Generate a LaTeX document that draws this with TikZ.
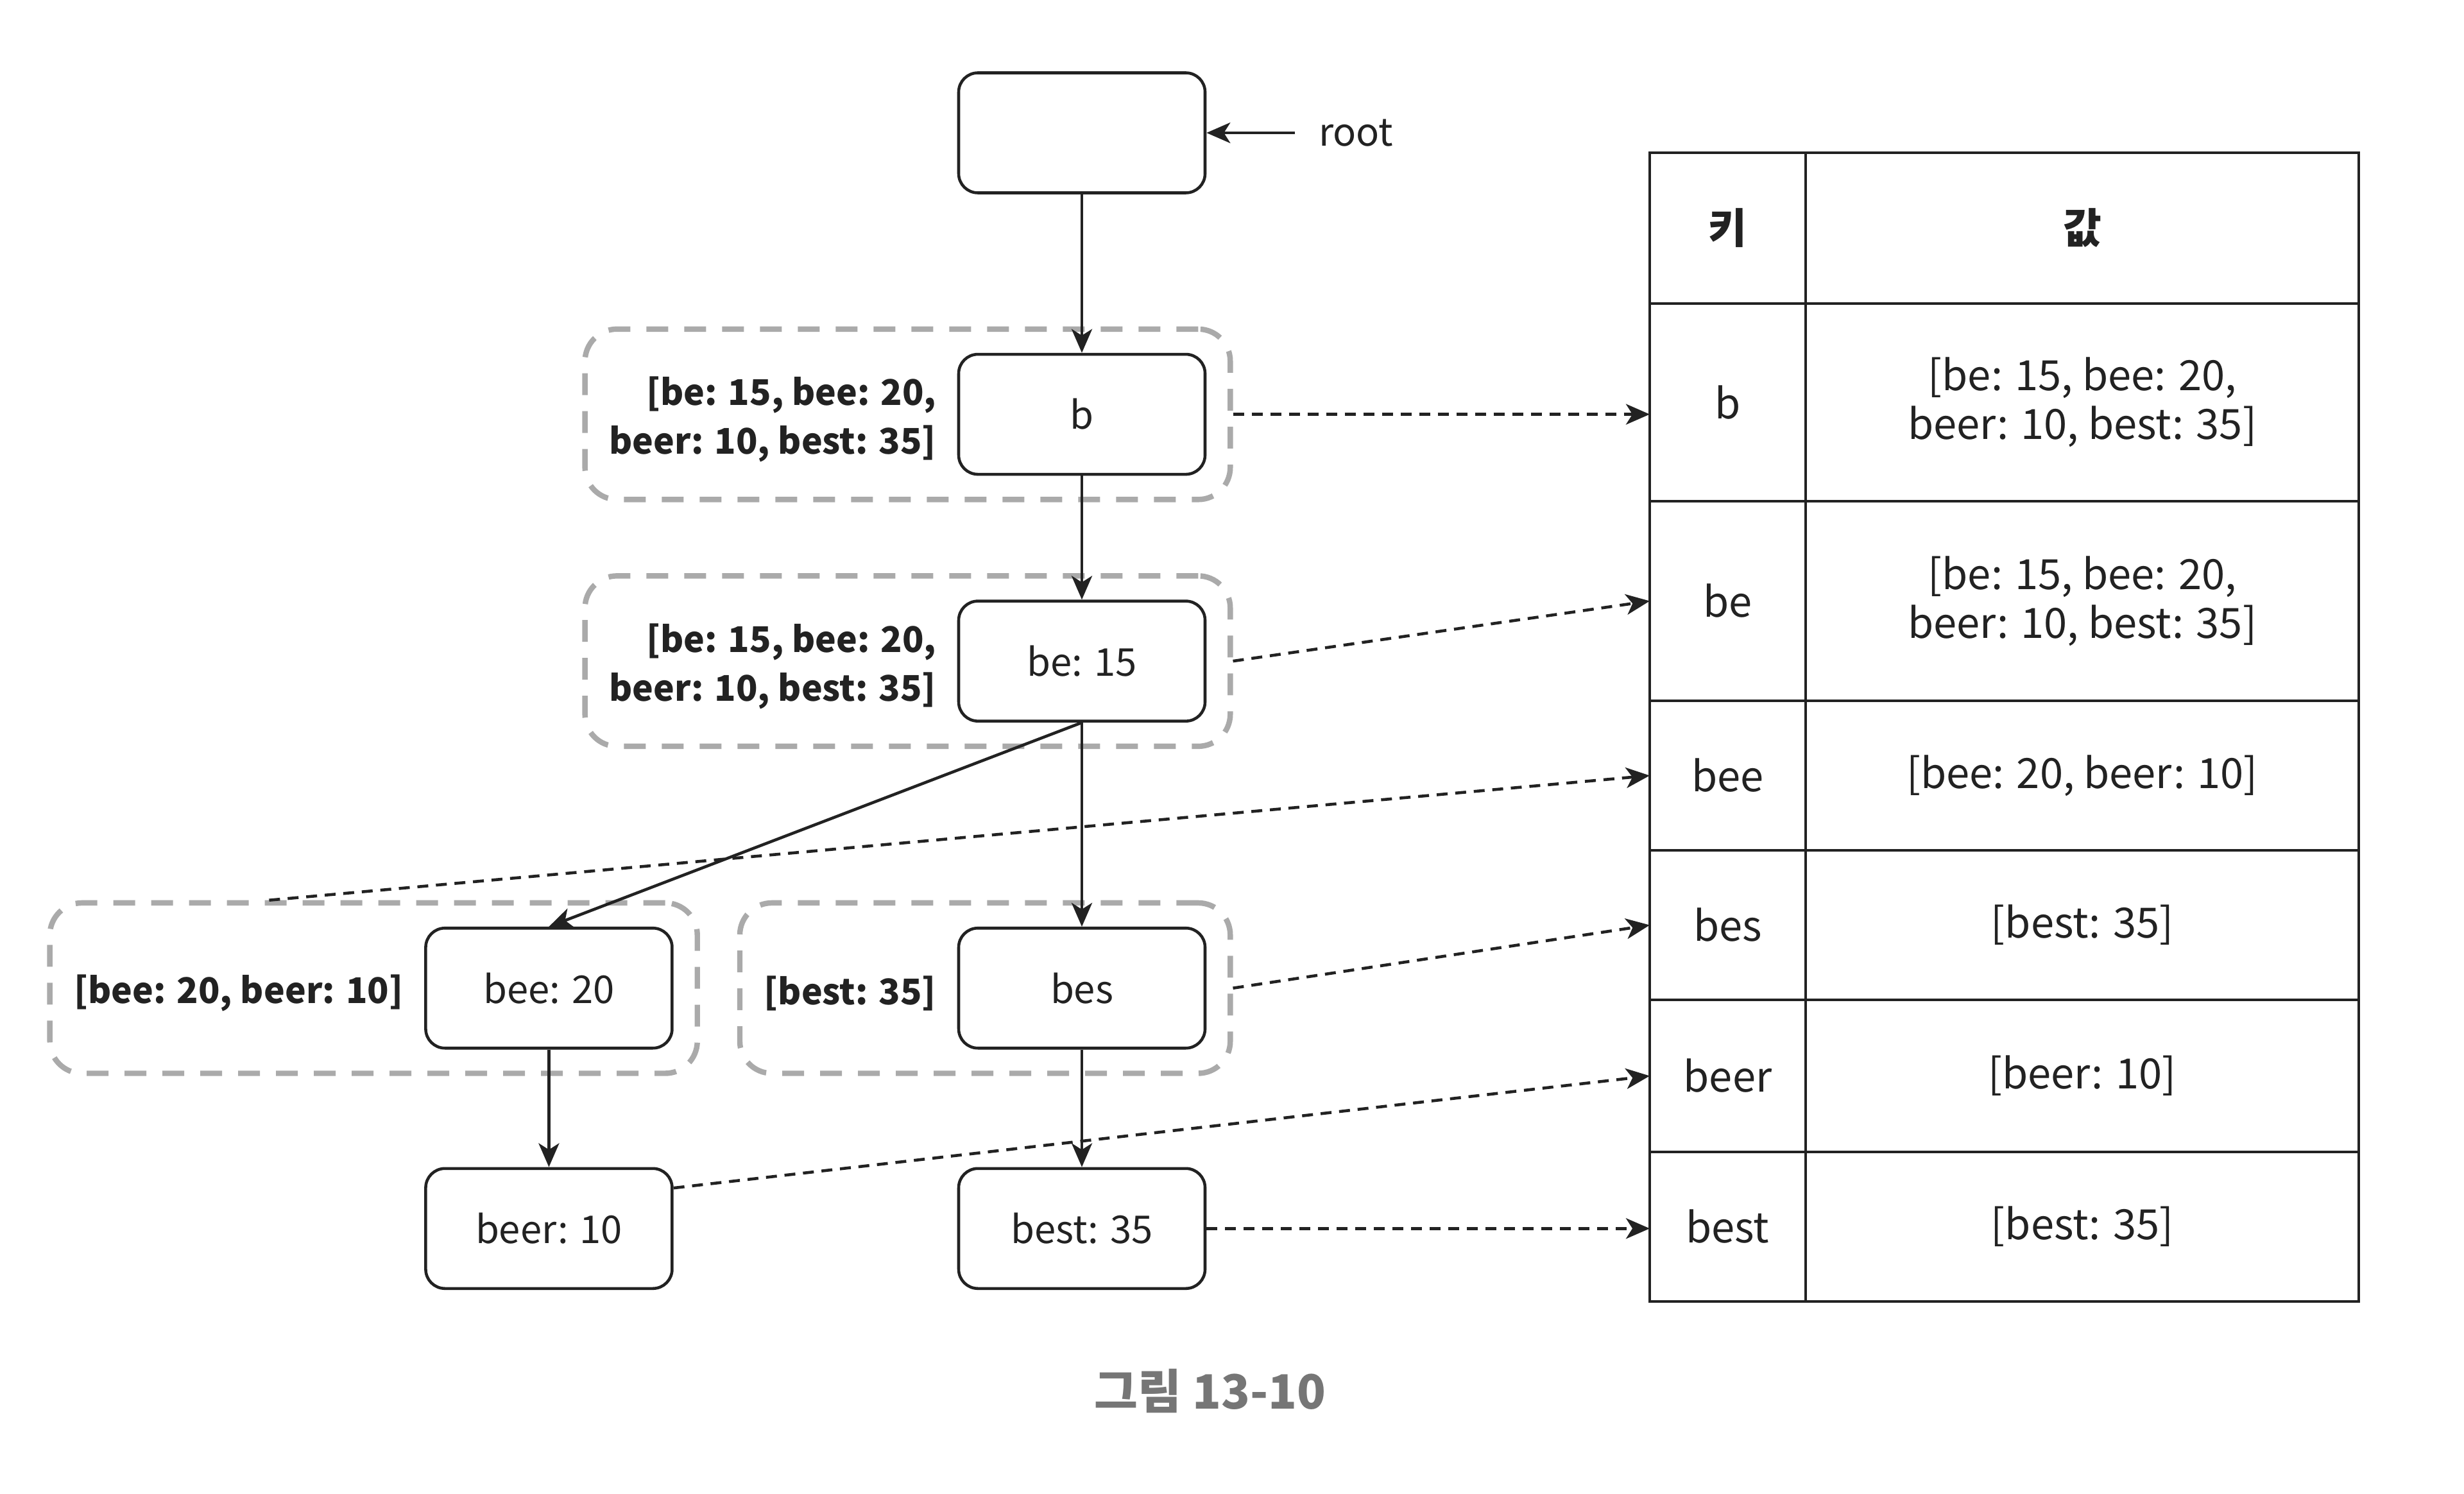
\documentclass[tikz,border=0pt]{standalone}
\usepackage{fontspec}
\setmainfont{Noto Sans CJK KR}
\usetikzlibrary{arrows.meta,positioning,fit,backgrounds,calc}
\definecolor{inkdark}{RGB}{34,34,34}
\definecolor{grpgray}{RGB}{170,170,170}
\definecolor{capgray}{RGB}{118,118,118}

\begin{document}
\begin{tikzpicture}[
  node distance=0.32cm,
  every node/.style={font=\fontsize{17}{21.6}\selectfont, text=inkdark},
  block/.style={rectangle, draw=inkdark, line width=1.3pt, rounded corners=0.3cm, minimum width=3.84cm, minimum height=1.87cm, align=center},
  tag/.style={font=\fontsize{15.7}{21.6}\selectfont\bfseries, align=right, inner sep=0pt, yshift=-0.08cm},
  grp/.style={draw=grpgray, line width=2.4pt, dash pattern=on 0.34cm off 0.25cm, rounded corners=0.5cm, inner sep=0.37cm},
  keycell/.style={rectangle, draw=inkdark, line width=1.3pt, minimum width=2.43cm, outer sep=0pt, inner sep=0pt, align=center, font=\fontsize{18.5}{21.6}\selectfont},
  valcell/.style={keycell, minimum width=8.62cm},
  arrow/.style={-{Stealth[length=0.37cm, width=0.32cm, inset=0.1cm]}, line width=1.3pt, draw=inkdark},
  link/.style={arrow, dash pattern=on 0.17cm off 0.12cm}
]
\useasboundingbox (0,0) rectangle (38.40,-23.27);

% trie
\node[block] (root) at (16.86,-2.07) {};
\node[block, below=2.47cm of root] (b) {b};
\node[block, below=1.93cm of b] (be) {be: 15};
\node[block, below=3.18cm of be] (bes) {bes};
\node[block, left=4.42cm of bes] (bee) {bee: 20};
\node[block, below=1.83cm of bee] (beer) {beer: 10};
\node[block, below=1.83cm of bes] (best) {best: 35};

\node[inner xsep=0.36cm, right=1.38cm of root] (rootlbl) {root};

% cached top results
\node[tag, left=of b] (tagb) {[be: 15, bee: 20,\\ beer: 10, best: 35]};
\node[tag, left=of be] (tagbe) {[be: 15, bee: 20,\\ beer: 10, best: 35]};
\node[tag, left=of bee] (tagbee) {[bee: 20, beer: 10]};
\node[tag, left=of bes] (tagbes) {[best: 35]};

\draw[arrow] (rootlbl.west) -- (root.east);
\draw[arrow] (root) -- (b);
\draw[arrow] (b) -- (be);
\draw[arrow] (be.south) -- (bee.north);
\draw[arrow] (be) -- (bes);
\draw[arrow] (bee) -- (beer);
\draw[arrow] (bes) -- (best);

% table
\node[keycell, minimum height=2.35cm, anchor=north west] (khead) at (25.71,-2.38) {\bfseries 키};
\node[valcell, minimum height=2.35cm, right=0pt of khead] (vhead) {\bfseries 값};
\node[keycell, minimum height=3.08cm, below=0pt of khead] (kb) {b};
\node[valcell, minimum height=3.08cm, right=0pt of kb] (vb) {[be: 15, bee: 20,\\ beer: 10, best: 35]};
\node[keycell, minimum height=3.11cm, below=0pt of kb] (kbe) {be};
\node[valcell, minimum height=3.11cm, right=0pt of kbe] (vbe) {[be: 15, bee: 20,\\ beer: 10, best: 35]};
\node[keycell, minimum height=2.33cm, below=0pt of kbe] (kbee) {bee};
\node[valcell, minimum height=2.33cm, right=0pt of kbee] (vbee) {[bee: 20, beer: 10]};
\node[keycell, minimum height=2.33cm, below=0pt of kbee] (kbes) {bes};
\node[valcell, minimum height=2.33cm, right=0pt of kbes] (vbes) {[best: 35]};
\node[keycell, minimum height=2.37cm, below=0pt of kbes] (kbeer) {beer};
\node[valcell, minimum height=2.37cm, right=0pt of kbeer] (vbeer) {[beer: 10]};
\node[keycell, minimum height=2.33cm, below=0pt of kbeer] (kbest) {best};
\node[valcell, minimum height=2.33cm, right=0pt of kbest] (vbest) {[best: 35]};

\begin{scope}[on background layer]
\node[grp, fit=(tagb)(b)] (grpb) {};
\node[grp, fit=(tagbe)(be)] (grpbe) {};
\node[grp, fit=(tagbee)(bee)] (grpbee) {};
\node[grp, fit=(tagbes)(bes)] (grpbes) {};
\end{scope}

\coordinate (beestart) at ($(grpbee.north west)!0.34!(grpbee.north east)$);

\draw[link] (grpb.east) -- (grpb.east -| kb.west);
\draw[link] (grpbe.east) -- (kbe.west);
\draw[link] (beestart) -- (kbee.west);
\draw[link] (grpbes.east) -- (kbes.west);
\draw[link] (beer.18) -- (kbeer.west);
\draw[link] (best.east) -- (best.east -| kbest.west);

\node[font=\fontsize{21}{25}\selectfont\bfseries, text=capgray] (caption) at (18.86,-21.67) {그림 13-10};

\end{tikzpicture}
\end{document}
